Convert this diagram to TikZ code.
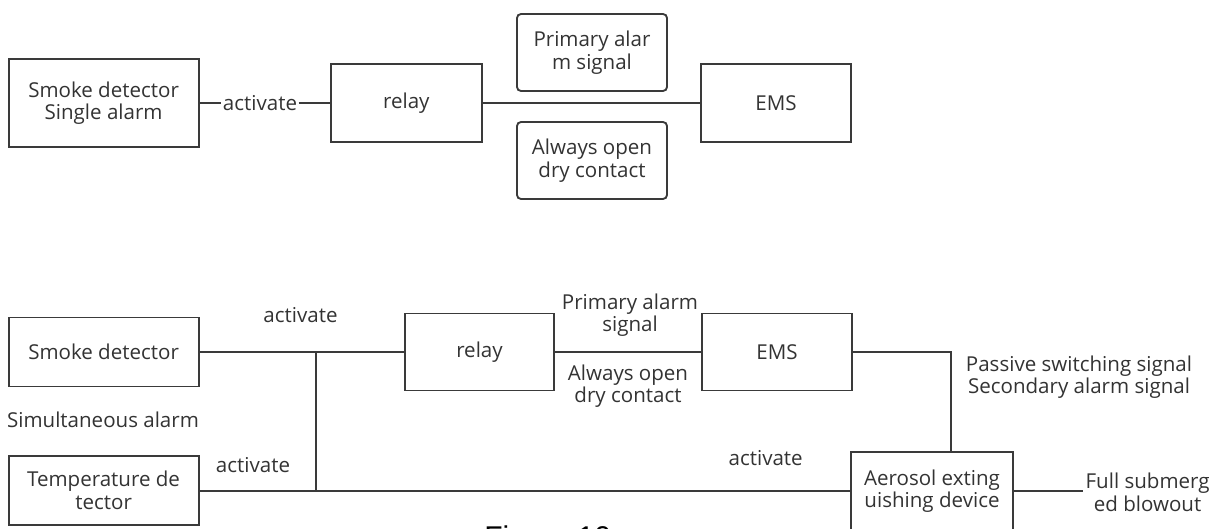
\documentclass[tikz,border=0pt]{standalone}
\usepackage{fontspec}
\setmainfont{Open Sans}
\newfontfamily\capfont{Liberation Sans}
\definecolor{linec}{HTML}{3A3A3A}
\definecolor{textc}{HTML}{333333}
\begin{document}
\begin{tikzpicture}[x=0.75pt,y=-0.75pt,
  every node/.style={text=textc, font=\fontsize{15.4}{17}\selectfont},
  box/.style={draw=linec, line width=1.4pt, inner sep=0pt, align=center, text=textc},
  rbox/.style={box, rounded corners=3pt},
  lbl/.style={align=center, inner sep=1pt},
  conn/.style={draw=linec, line width=1.4pt}]
\useasboundingbox (0,0) rectangle (1227,528);
\clip (0,0) rectangle (1227,528);
% ---------- top diagram ----------
\node[box, minimum width=142.5pt, minimum height=66pt] (sd1) at (103.6,103) {Smoke detector\\Single alarm};
\node[box, minimum width=113pt, minimum height=58.5pt] (relay1) at (406.3,103) {relay};
\node[rbox, minimum width=112.5pt, minimum height=57.75pt] (prim1) at (592,52.5) {Primary alar\\m signal};
\node[rbox, minimum width=112.5pt, minimum height=57.75pt] (open1) at (592,160.5) {Always open\\dry contact};
\node[box, minimum width=112.5pt, minimum height=58.5pt] (ems1) at (776,103) {EMS};
\node[lbl] (act1) at (260,103) {activate};
\draw[conn] (sd1.east) -- (act1.west);
\draw[conn] (act1.east) -- (relay1.west);
\draw[conn] (relay1.east) -- (ems1.west);
% ---------- bottom diagram ----------
\node[box, minimum width=142.5pt, minimum height=51.75pt] (sd2) at (103.6,352) {Smoke detector};
\node[box, minimum width=111.75pt, minimum height=57.75pt] (relay2) at (479.5,352) {relay};
\node[box, minimum width=112.5pt, minimum height=57.75pt] (ems2) at (777,352) {EMS};
\node[box, minimum width=142.5pt, minimum height=51.75pt] (temp) at (103.6,490.5) {Temperature de\\tector};
\node[box, minimum width=121.5pt, minimum height=58.5pt] (aero) at (932,491) {Aerosol exting\\uishing device};
\coordinate (j1) at (316.3,352);
\coordinate (j2) at (316.3,491);
\coordinate (k) at (950.6,352);
\coordinate (fullend) at (1083,491);
\draw[conn] (sd2.east) -- (relay2.west);
\draw[conn] (j1) -- (j2);
\draw[conn] (temp.east |- j2) -- (aero.west);
\draw[conn] (relay2.east) -- (ems2.west);
\draw[conn] (ems2.east) -- (k) -- (k |- aero.north);
\draw[conn] (aero.east) -- (fullend);
\node[lbl, anchor=west] (full) at (1084,492) {Full submerg\\ed blowout};
\node[lbl] (actA) at (300.5,315) {activate};
\node[lbl] (sim) at (103,420) {Simultaneous alarm};
\node[lbl] (actB) at (253,465) {activate};
\node[lbl] (prim2) at (630,315) {Primary alarm\\signal};
\node[lbl] (open2) at (628,386) {Always open\\dry contact};
\node[lbl] (pass) at (1079,377) {Passive switching signal\\Secondary alarm signal};
\node[lbl] (actC) at (765.7,458) {activate};
\node[anchor=base west, inner sep=0pt, font=\capfont\fontsize{22.5}{24}\selectfont, text=black] (cap) at (484,547) {Figure 10};
\end{tikzpicture}
\end{document}
